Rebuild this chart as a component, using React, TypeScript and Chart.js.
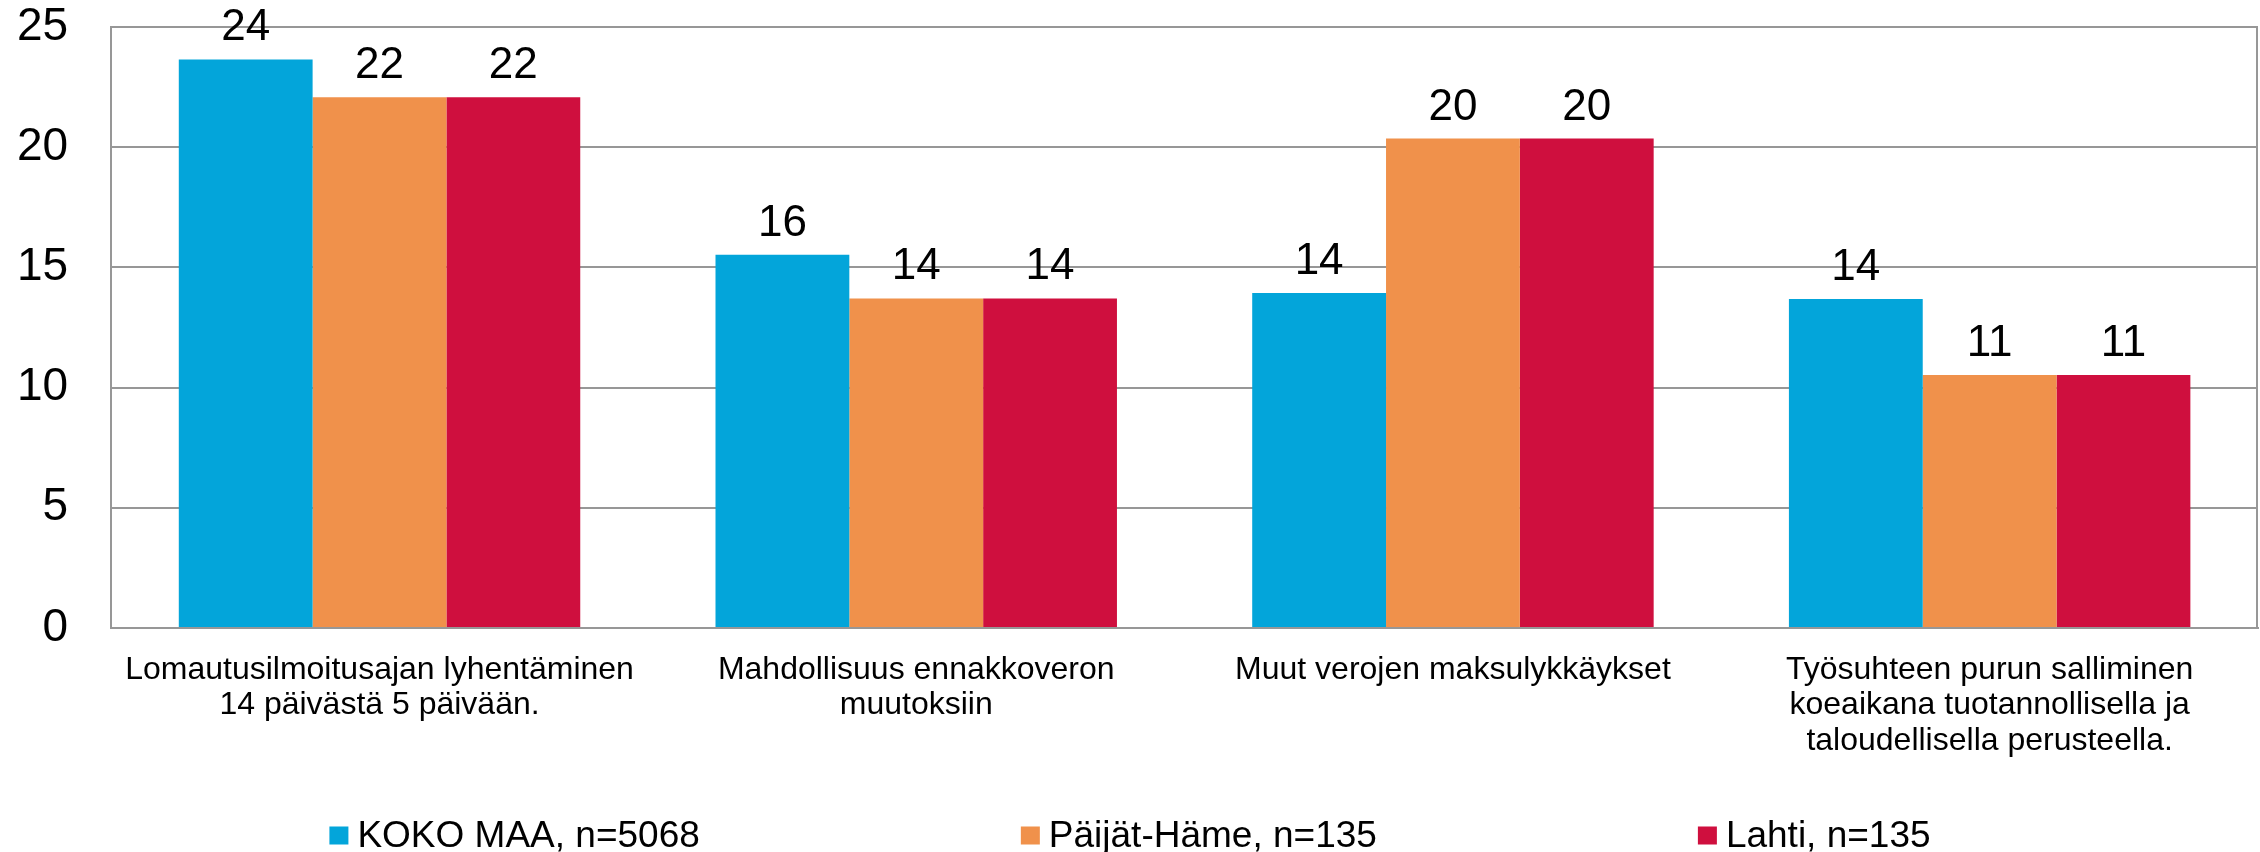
import { useEffect, useRef } from 'react';
import { Chart, registerables } from 'chart.js';

Chart.register(...registerables);

const FONT = '"Liberation Sans", Arial, Helvetica, sans-serif';

const categories: string[][] = [
  ['Lomautusilmoitusajan lyhentäminen', '14 päivästä 5 päivään.'],
  ['Mahdollisuus ennakkoveron', 'muutoksiin'],
  ['Muut verojen maksulykkäykset'],
  ['Työsuhteen purun salliminen', 'koeaikana tuotannollisella ja', 'taloudellisella perusteella.'],
];

const seriesNames = ['KOKO MAA, n=5068', 'Päijät-Häme, n=135', 'Lahti, n=135'];

const kokoMaa = [23.65, 15.53, 13.93, 13.69];
const paijatHame = [22.08, 13.71, 20.36, 10.52];
const lahti = [22.08, 13.71, 20.36, 10.52];

const yTicks = [0, 5, 10, 15, 20, 25];

const seriesColors = ['#03A5DA', '#F0914B', '#CF0F3E'];

const Y_TICK_PAD = 43;

const dataLabelPlugin = {
  id: 'dataLabels',
  afterDatasetsDraw(chart: any) {
    const ctx = chart.ctx;
    ctx.save();
    ctx.font = `44px ${FONT}`;
    ctx.fillStyle = '#000';
    ctx.textAlign = 'center';
    ctx.textBaseline = 'alphabetic';
    chart.data.datasets.forEach((ds: any, di: number) => {
      const meta = chart.getDatasetMeta(di);
      meta.data.forEach((el: any, i: number) => {
        ctx.fillText(String(Math.round(ds.data[i])), el.x, el.y - 19);
      });
    });
    ctx.restore();
  },
};

const frameAndLegendPlugin = {
  id: 'frameAndLegend',
  afterDraw(chart: any) {
    const ctx = chart.ctx;
    const area = chart.chartArea;
    ctx.save();
    ctx.strokeStyle = '#979797';
    ctx.lineWidth = 2;
    ctx.beginPath();
    ctx.moveTo(area.right - 1, area.top);
    ctx.lineTo(area.right - 1, area.bottom);
    ctx.stroke();

    ctx.font = `37px ${FONT}`;
    ctx.textBaseline = 'alphabetic';
    ctx.textAlign = 'left';
    const boxW = 19;
    const boxH = 18;
    const boxGap = 9;
    const itemGap = 321;
    const items = chart.data.datasets.map((ds: any) => ({
      text: ds.label,
      color: ds.backgroundColor,
      w: boxW + boxGap + ctx.measureText(ds.label).width,
    }));
    const total = items.reduce((s: number, it: any) => s + it.w, 0) + itemGap * (items.length - 1);
    let x = chart.width / 2 - total / 2;
    const baseline = 846.5;
    items.forEach((it: any) => {
      ctx.fillStyle = it.color;
      ctx.fillRect(x, baseline - 20, boxW, boxH);
      ctx.fillStyle = '#000';
      ctx.fillText(it.text, x + boxW + boxGap, baseline);
      x += it.w + itemGap;
    });
    ctx.restore();
  },
};

export default function App() {
  const canvasRef = useRef<HTMLCanvasElement | null>(null);

  useEffect(() => {
    document.body.style.margin = '0';
    const canvas = canvasRef.current;
    if (!canvas) return;
    const chart = new Chart(canvas, {
      type: 'bar',
      data: {
        labels: categories,
        datasets: [
          { label: seriesNames[0], data: kokoMaa, backgroundColor: seriesColors[0] },
          { label: seriesNames[1], data: paijatHame, backgroundColor: seriesColors[1] },
          { label: seriesNames[2], data: lahti, backgroundColor: seriesColors[2] },
        ],
      },
      options: {
        responsive: false,
        animation: false,
        devicePixelRatio: 1,
        layout: { padding: { top: 27, right: 2, left: 17, bottom: 0 } },
        datasets: {
          bar: { barPercentage: 1, categoryPercentage: 0.748, borderWidth: 0 },
        },
        plugins: {
          legend: { display: false },
          tooltip: { enabled: false },
          title: { display: false },
        },
        scales: {
          x: {
            grid: { display: false, drawTicks: false },
            border: { display: true, color: '#979797', width: 2 },
            ticks: {
              color: '#000',
              font: { family: FONT, size: 32, lineHeight: 1.11 },
              padding: 24,
              maxRotation: 0,
              autoSkip: false,
            },
            afterFit: (scale: any) => {
              scale.height = 224;
            },
          },
          y: {
            min: 0,
            max: 25,
            grid: { color: '#979797', lineWidth: 2, drawTicks: false },
            border: { display: true, color: '#979797', width: 2 },
            afterBuildTicks: (scale: any) => {
              scale.ticks = yTicks.map((v) => ({ value: v }));
            },
            ticks: {
              color: '#000',
              font: { family: FONT, size: 46 },
              padding: Y_TICK_PAD,
            },
            afterFit: (scale: any) => {
              scale.width = scale.width - Y_TICK_PAD;
              scale.paddingTop = 0;
              scale.paddingBottom = 0;
            },
          },
        },
      },
      plugins: [dataLabelPlugin, frameAndLegendPlugin],
    });
    return () => chart.destroy();
  }, []);

  return (
    <div style={{ width: 2260, height: 852, background: '#fff' }}>
      <canvas ref={canvasRef} width={2260} height={852} style={{ display: 'block' }} />
    </div>
  );
}
